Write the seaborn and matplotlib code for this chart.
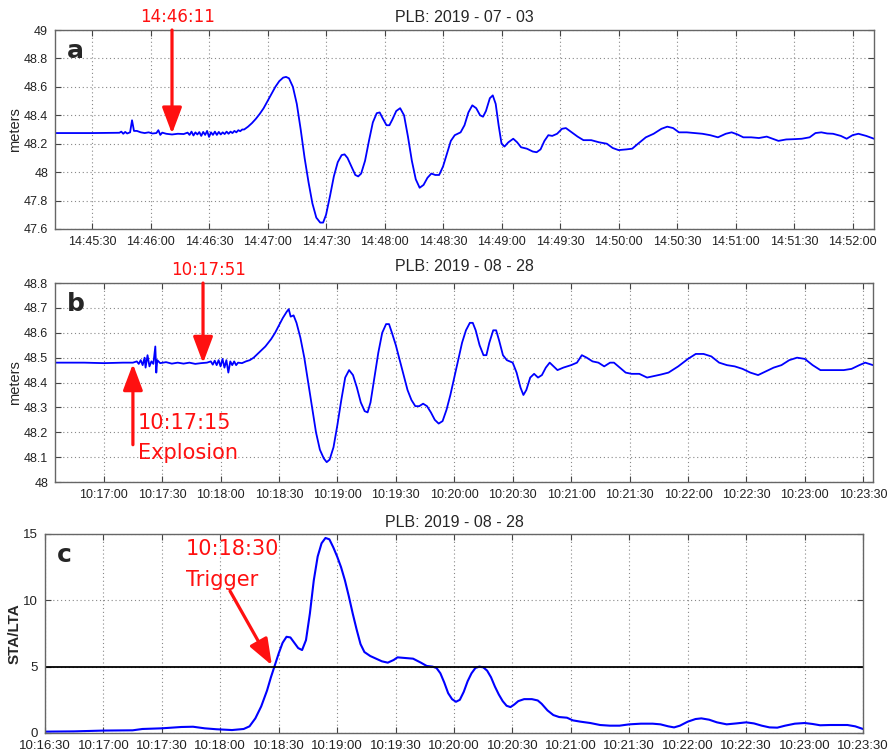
import matplotlib
matplotlib.use("Agg")
import seaborn as sns
import matplotlib.pyplot as plt

# ---- data (time in seconds after the base minute) ----
a_base = "14:45:00"
a_time = [11, 30, 44, 45, 46, 47, 48, 49.5, 50.5, 51.5, 53, 55, 57, 59, 61, 63, 64, 65, 66, 68,
          71, 74, 77, 79, 80, 81, 82, 83, 84, 85, 86, 87, 88, 89, 90, 91, 92, 93, 94, 95,
          96, 97, 98, 99, 100, 101, 102, 103, 104, 105, 106, 107, 108, 110, 112, 114, 116, 118, 120, 122,
          124, 126, 128, 129.5, 131, 133, 135, 137, 139, 141, 143, 145, 147, 148.5, 150, 152, 154, 156, 158, 159.5,
          161, 163, 165, 166.5, 168, 170, 172, 174, 176, 177.5, 179, 181, 182.5, 184, 186, 188, 190, 192, 194, 196,
          198, 200, 202, 204, 206, 208, 210, 212, 214, 216, 219, 221, 223, 225, 227, 229, 230.5, 232, 234, 235.5,
          237, 238.5, 240, 241.5, 243.5, 246, 248, 250, 253, 256, 258, 260, 262, 264, 266, 268.5, 271, 273, 276, 279,
          282, 286, 290, 294, 297, 300, 304, 307, 310, 314, 318, 322, 325, 328, 331, 335, 339, 343, 347, 351,
          355, 358, 361, 364, 368, 372, 376, 379, 382, 386, 390, 394, 398, 401, 404, 407, 410, 414, 417, 420,
          423, 427, 431]
a_level = [48.275, 48.275, 48.277, 48.285, 48.270, 48.283, 48.272, 48.28, 48.365, 48.29, 48.29, 48.28, 48.275, 48.28, 48.272, 48.275, 48.295, 48.262, 48.278, 48.27,
           48.265, 48.27, 48.268, 48.278, 48.262, 48.285, 48.258, 48.28, 48.265, 48.282, 48.255, 48.283, 48.262, 48.29, 48.248, 48.28, 48.262, 48.285, 48.262, 48.283,
           48.265, 48.28, 48.268, 48.285, 48.27, 48.285, 48.275, 48.29, 48.28, 48.295, 48.288, 48.3, 48.3, 48.32, 48.345, 48.375, 48.41, 48.45, 48.5, 48.55,
           48.6, 48.64, 48.665, 48.67, 48.66, 48.6, 48.48, 48.3, 48.1, 47.93, 47.78, 47.68, 47.645, 47.645, 47.7, 47.83, 47.97, 48.07, 48.12, 48.125,
           48.1, 48.04, 47.98, 47.97, 47.99, 48.08, 48.22, 48.35, 48.415, 48.42, 48.38, 48.33, 48.33, 48.37, 48.43, 48.45, 48.4, 48.25, 48.08, 47.95,
           47.89, 47.91, 47.96, 47.99, 47.98, 47.98, 48.04, 48.13, 48.22, 48.26, 48.28, 48.33, 48.42, 48.47, 48.45, 48.40, 48.39, 48.43, 48.52, 48.54,
           48.48, 48.33, 48.2, 48.18, 48.21, 48.235, 48.21, 48.175, 48.165, 48.145, 48.14, 48.16, 48.22, 48.26, 48.255, 48.27, 48.305, 48.31, 48.28, 48.25,
           48.225, 48.225, 48.21, 48.2, 48.17, 48.155, 48.16, 48.165, 48.2, 48.245, 48.27, 48.305, 48.32, 48.31, 48.28, 48.28, 48.275, 48.27, 48.26, 48.245,
           48.27, 48.28, 48.265, 48.245, 48.245, 48.24, 48.25, 48.235, 48.22, 48.23, 48.232, 48.235, 48.245, 48.275, 48.28, 48.272, 48.27, 48.255, 48.235, 48.26,
           48.27, 48.255, 48.235]

b_base = "10:16:00"
b_time = [35, 50, 60, 70, 75, 77, 78, 79, 80, 81, 81.5, 82.5, 83.5, 84.5, 85.5, 86.5, 87, 87.5, 89, 92,
          95, 98, 101, 104, 107, 110, 113, 115, 116, 117, 118, 119, 120, 121, 122, 123, 124, 125, 126, 127,
          128, 129, 131, 133, 135, 137, 139, 141, 143, 144.5, 146, 148, 150, 152, 154, 155, 156, 157.5, 159, 161,
          163, 165, 167, 169, 171, 173, 174.5, 176, 178, 180, 182, 184, 186, 188, 190, 192, 194, 195.5, 197, 199,
          201, 203, 205, 206.5, 208, 210, 212, 214, 216, 218, 220, 222, 224, 226, 228, 230, 232, 234, 236, 238,
          240, 242, 244, 246, 248, 249.5, 251, 253, 255, 256.5, 258, 260, 261.5, 263, 265, 267, 270, 272, 274, 275.5,
          277, 279, 281, 283, 285, 287, 289, 291, 293, 296, 300, 303, 305.5, 308, 311, 314, 317, 320, 322, 325,
          328, 331, 335, 339, 342, 346, 350, 355, 360, 364, 368, 372, 376, 380, 384, 388, 392, 396, 400, 404,
          408, 412, 416, 420, 424, 428, 432, 436, 440, 444, 448, 451, 455]
b_level = [48.48, 48.48, 48.478, 48.48, 48.48, 48.485, 48.475, 48.49, 48.47, 48.5, 48.46, 48.51, 48.465, 48.485, 48.475, 48.545, 48.44, 48.49, 48.478, 48.482,
           48.476, 48.48, 48.476, 48.48, 48.475, 48.478, 48.48, 48.485, 48.472, 48.488, 48.47, 48.49, 48.465, 48.495, 48.46, 48.49, 48.44, 48.485, 48.47, 48.485,
           48.47, 48.48, 48.478, 48.485, 48.49, 48.5, 48.515, 48.53, 48.545, 48.56, 48.575, 48.6, 48.63, 48.66, 48.685, 48.695, 48.665, 48.67, 48.64, 48.58,
           48.5, 48.4, 48.3, 48.2, 48.13, 48.095, 48.08, 48.09, 48.14, 48.23, 48.33, 48.42, 48.45, 48.43, 48.38, 48.32, 48.285, 48.28, 48.32, 48.42,
           48.52, 48.6, 48.635, 48.635, 48.6, 48.55, 48.49, 48.43, 48.37, 48.33, 48.305, 48.305, 48.315, 48.305, 48.28, 48.25, 48.235, 48.245, 48.29, 48.35,
           48.42, 48.49, 48.56, 48.61, 48.64, 48.64, 48.61, 48.55, 48.51, 48.51, 48.56, 48.61, 48.61, 48.57, 48.51, 48.49, 48.48, 48.44, 48.38, 48.35,
           48.37, 48.42, 48.435, 48.42, 48.43, 48.46, 48.48, 48.465, 48.45, 48.46, 48.47, 48.48, 48.51, 48.5, 48.485, 48.48, 48.465, 48.48, 48.48, 48.46,
           48.44, 48.435, 48.435, 48.42, 48.425, 48.432, 48.44, 48.465, 48.495, 48.515, 48.515, 48.505, 48.48, 48.47, 48.465, 48.455, 48.44, 48.43, 48.445, 48.46,
           48.47, 48.49, 48.5, 48.495, 48.47, 48.45, 48.45, 48.45, 48.45, 48.455, 48.47, 48.48, 48.47]

c_base = "10:16:00"
c_time = [30, 45, 60, 75, 80, 90, 100, 106, 112, 118, 126, 132, 135, 138, 141, 144, 146, 148, 150, 152,
          154, 156, 158, 160, 162, 164, 166, 168, 170, 172, 174, 176, 178, 180, 182, 184, 186, 188, 190, 192,
          194, 197, 200, 203, 206, 209, 211, 215, 219, 223, 226, 229, 231, 233, 235, 237, 239, 241, 243, 245,
          247, 249, 251, 253, 255, 257, 259, 261, 263, 265, 267, 269, 271, 273, 276, 280, 283, 285, 288, 291,
          294, 298, 301, 305, 310, 315, 320, 325, 330, 336, 342, 346, 350, 353, 356, 360, 364, 367, 371, 375,
          380, 385, 390, 394, 398, 402, 406, 410, 415, 420, 424, 428, 433, 438, 442, 446, 450]
c_ratio = [0.1, 0.12, 0.18, 0.2, 0.3, 0.35, 0.45, 0.47, 0.35, 0.28, 0.22, 0.3, 0.5, 1.1, 2.0, 3.2, 4.2, 5.1, 6.0, 6.8,
           7.25, 7.2, 6.8, 6.4, 6.25, 7.0, 9.0, 11.5, 13.3, 14.3, 14.7, 14.6, 14.0, 13.3, 12.5, 11.5, 10.3, 9.0, 7.8, 6.7,
           6.1, 5.8, 5.6, 5.4, 5.3, 5.5, 5.7, 5.65, 5.6, 5.3, 5.05, 5.0, 4.9, 4.5, 3.8, 3.0, 2.55, 2.35, 2.5, 3.1,
           3.9, 4.5, 4.9, 5.0, 4.95, 4.7, 4.2, 3.5, 2.9, 2.4, 2.05, 1.95, 2.15, 2.4, 2.55, 2.55, 2.45, 2.2, 1.7, 1.35,
           1.2, 1.15, 0.95, 0.85, 0.75, 0.6, 0.55, 0.55, 0.65, 0.7, 0.7, 0.65, 0.5, 0.42, 0.55, 0.85, 1.05, 1.1, 1.0, 0.8,
           0.65, 0.72, 0.8, 0.72, 0.55, 0.42, 0.4, 0.55, 0.7, 0.75, 0.68, 0.58, 0.6, 0.6, 0.6, 0.5, 0.3]
c_threshold = 5

a_xticks = ["14:45:30", "14:46:00", "14:46:30", "14:47:00", "14:47:30", "14:48:00", "14:48:30",
            "14:49:00", "14:49:30", "14:50:00", "14:50:30", "14:51:00", "14:51:30", "14:52:00"]
a_yticks = [47.6, 47.8, 48, 48.2, 48.4, 48.6, 48.8, 49]
a_ylabels = ["47.6", "47.8", "48", "48.2", "48.4", "48.6", "48.8", "49"]
b_xticks = ["10:17:00", "10:17:30", "10:18:00", "10:18:30", "10:19:00", "10:19:30", "10:20:00",
            "10:20:30", "10:21:00", "10:21:30", "10:22:00", "10:22:30", "10:23:00", "10:23:30"]
b_yticks = [48, 48.1, 48.2, 48.3, 48.4, 48.5, 48.6, 48.7, 48.8]
b_ylabels = ["48", "48.1", "48.2", "48.3", "48.4", "48.5", "48.6", "48.7", "48.8"]
c_xticks = ["10:16:30"] + b_xticks
c_yticks = [0, 5, 10, 15]


def secs(hms, base):
    h, m, s = [int(v) for v in hms.split(":")]
    bh, bm, bs = [int(v) for v in base.split(":")]
    return (h - bh) * 3600 + (m - bm) * 60 + (s - bs)


sns.set_style("ticks")
plt.rcParams["font.family"] = ["Liberation Sans", "DejaVu Sans"]

fig = plt.figure(figsize=(8.93, 7.54), dpi=100)
ax_a = fig.add_axes([0.0616, 0.6963, 0.9171, 0.2639])
ax_b = fig.add_axes([0.0616, 0.3607, 0.9160, 0.2639])
ax_c = fig.add_axes([0.0504, 0.0279, 0.9160, 0.2639])

blue = "#0000ff"
red = "#ff1010"


def style(ax, base, xt, yt, ylab, tick_fs):
    ax.set_xticks([secs(t, base) for t in xt])
    ax.set_xticklabels(xt)
    ax.set_yticks(yt)
    if ylab is not None:
        ax.set_yticklabels(ylab)
    ax.grid(True, linestyle=(0, (1, 2.5)), color="#888888", linewidth=0.8)
    ax.tick_params(direction="in", top=True, right=True, length=4, width=0.8,
                   color="#444444", labelsize=tick_fs, labelcolor="#222222", pad=5)
    for sp in ax.spines.values():
        sp.set_color("#666666")
        sp.set_linewidth(1.0)
    ax.set_xlabel("")


# panel a
sns.lineplot(x=a_time, y=a_level, ax=ax_a, color=blue, linewidth=1.3, sort=False)
ax_a.set_xlim(a_time[0], a_time[-1])
ax_a.set_ylim(47.6, 49)
style(ax_a, a_base, a_xticks, a_yticks, a_ylabels, 9)
ax_a.set_ylabel("meters", fontsize=10.5)
ax_a.yaxis.set_label_coords(-0.040, 0.5)
ax_a.set_title("PLB: 2019 - 07 - 03", fontsize=11.5, pad=6)

# panel b
sns.lineplot(x=b_time, y=b_level, ax=ax_b, color=blue, linewidth=1.3, sort=False)
ax_b.set_xlim(b_time[0], b_time[-1])
ax_b.set_ylim(48, 48.8)
style(ax_b, b_base, b_xticks, b_yticks, b_ylabels, 9)
ax_b.set_ylabel("meters", fontsize=10.5)
ax_b.yaxis.set_label_coords(-0.040, 0.5)
ax_b.set_title("PLB: 2019 - 08 - 28", fontsize=11.5, pad=9)

# panel c
sns.lineplot(x=c_time, y=c_ratio, ax=ax_c, color=blue, linewidth=1.5, sort=False)
ax_c.axhline(c_threshold, color="black", linewidth=1.3)
ax_c.set_xlim(secs(c_xticks[0], c_base), secs(c_xticks[-1], c_base))
ax_c.set_ylim(0, 15)
style(ax_c, c_base, c_xticks, c_yticks, None, 9.5)
ax_c.set_ylabel("STA/LTA", fontsize=11, fontweight="bold")
ax_c.yaxis.set_label_coords(-0.029, 0.5)
ax_c.set_title("PLB: 2019 - 08 - 28", fontsize=11.5, pad=5)

# panel letters
for ax, letter in [(ax_a, "a"), (ax_b, "b"), (ax_c, "c")]:
    ax.text(0.015, 0.955, letter, transform=ax.transAxes, fontsize=18,
            fontweight="bold", ha="left", va="top", family="DejaVu Sans")

arrow = dict(arrowstyle="-|>,head_length=0.8,head_width=0.3", color=red,
             lw=2.3, mutation_scale=20, shrinkA=0, shrinkB=0)
ann_font = dict(color=red, family="DejaVu Sans")

# arrows a
t_a = secs("14:46:11", a_base)
ax_a.annotate("", xy=(t_a, 48.27), xytext=(t_a, 1.0),
              xycoords="data", textcoords=("data", "axes fraction"), arrowprops=arrow)
ax_a.annotate("14:46:11", xy=(t_a, 1.0), xycoords=("data", "axes fraction"),
              xytext=(4, 9.5), textcoords="offset points", ha="center", va="center",
              fontsize=12, annotation_clip=False, **ann_font)

# arrows b
t_b1 = secs("10:17:51", b_base)
ax_b.annotate("", xy=(t_b1, 48.478), xytext=(t_b1, 1.0),
              xycoords="data", textcoords=("data", "axes fraction"), arrowprops=arrow)
ax_b.annotate("10:17:51", xy=(t_b1, 1.0), xycoords=("data", "axes fraction"),
              xytext=(4, 9.5), textcoords="offset points", ha="center", va="center",
              fontsize=12, annotation_clip=False, **ann_font)
t_b2 = secs("10:17:15", b_base)
ax_b.annotate("", xy=(t_b2, 48.475), xytext=(t_b2, 48.15), arrowprops=arrow)
ax_b.text(t_b2 + 2.5, 48.237, "10:17:15", ha="left", va="center", fontsize=15, **ann_font)
ax_b.text(t_b2 + 2.5, 48.117, "Explosion", ha="left", va="center", fontsize=15, **ann_font)

# arrow c
ax_c.annotate("", xy=(146.5, 5.1), xytext=(125, 10.7), arrowprops=arrow)
ax_c.text(102.4, 13.87, "10:18:30", ha="left", va="center", fontsize=15, **ann_font)
ax_c.text(102.4, 11.53, "Trigger", ha="left", va="center", fontsize=15, **ann_font)

plt.savefig("out.png", dpi=100)
